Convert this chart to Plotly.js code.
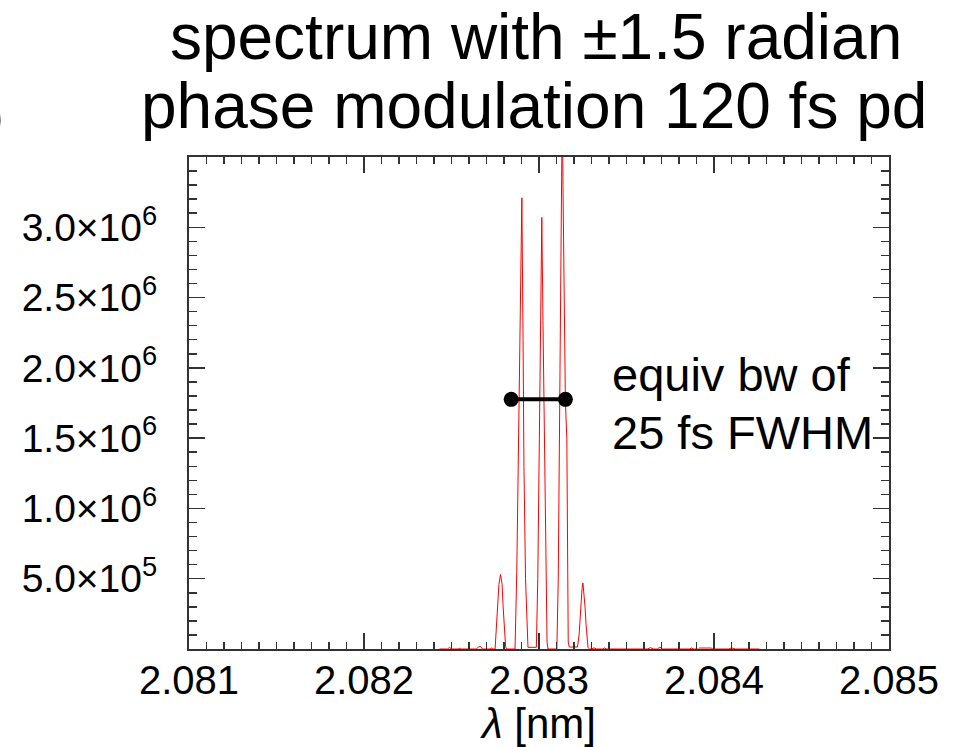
<!DOCTYPE html>
<html>
<head>
<meta charset="utf-8">
<script src="https://cdn.plot.ly/plotly-3.0.1.min.js"></script>
<style>
html,body{margin:0;padding:0;background:#fff;}
#chart{width:959px;height:747px;}
</style>
</head>
<body>
<div id="chart"></div>
<script>
// wavelength [nm] of the read spectrum points
const lambdaNm = [
  2.082431, 2.082477, 2.082489, 2.082500, 2.082540, 2.082546, 2.082551,
  2.082643, 2.082654, 2.082666, 2.082677, 2.082723, 2.082729, 2.082734,
  2.082749, 2.082757, 2.082765, 2.082771, 2.082780, 2.082789, 2.082795, 2.082802, 2.082809, 2.082814,
  2.082863, 2.082873, 2.082883, 2.082891, 2.082902, 2.082909, 2.082914, 2.082923, 2.082931, 2.082937,
  2.082985, 2.082993, 2.083002, 2.083009, 2.083016, 2.083023, 2.083031, 2.083038, 2.083046, 2.083051,
  2.083102, 2.083110, 2.083119, 2.083127, 2.083133, 2.083137, 2.083142, 2.083151, 2.083159, 2.083163, 2.083167, 2.083173,
  2.083220, 2.083229, 2.083234, 2.083240, 2.083246, 2.083251, 2.083257, 2.083263, 2.083269, 2.083274, 2.083280, 2.083289,
  2.083300, 2.083314, 2.083329, 2.083363, 2.083374, 2.083386,
  2.083620, 2.083637, 2.083654, 2.083677, 2.083691, 2.083706,
  2.083860, 2.083871, 2.083883, 2.083911, 2.083917, 2.083986, 2.083991,
  2.084083, 2.084100, 2.084123, 2.084197, 2.084203, 2.084209, 2.084260
];
// spectral intensity at those points
const intensity = [
  0, 0, 12000, 0, 0, 8000, 0,
  0, 15000, 18000, 0, 0, 9000, 0,
  0, 150000, 330000, 460000, 530000, 460000, 300000, 150000, 20000, 0,
  0, 550000, 1450000, 2300000, 3210000, 2200000, 1300000, 500000, 100000, 12000,
  12000, 500000, 1500000, 2350000, 3070000, 2300000, 1500000, 700000, 50000, 0,
  0, 500000, 1900000, 2800000, 3900000, 3300000, 2500000, 1750000, 1500000, 650000, 50000, 14000,
  14000, 100000, 220000, 330000, 430000, 470000, 400000, 300000, 170000, 70000, 10000, 0,
  0, 8000, 0, 0, 7000, 0,
  0, 10000, 0, 0, 14000, 0,
  0, 7000, 0, 0, 7000, 7000, 0,
  0, 8000, 0, 0, 7000, 0, 0
];
// equivalent-bandwidth bar (25 fs FWHM)
const bwX = [2.082841, 2.083151];
const bwY = [1776000, 1776000];

// axis ticks
const xTickVals = [2.081, 2.082, 2.083, 2.084, 2.085];
const xTickText = ["2.081", "2.082", "2.083", "2.084", "2.085"];
const yTickVals = [500000, 1000000, 1500000, 2000000, 2500000, 3000000];
const yTickText = ["5.0×10<sup>5</sup>", "1.0×10<sup>6</sup>", "1.5×10<sup>6</sup>",
                   "2.0×10<sup>6</sup>", "2.5×10<sup>6</sup>", "3.0×10<sup>6</sup>"];

const titleLine1 = "spectrum with ±1.5 radian";
const titleLine2 = "phase modulation 120 fs pd";

const FONT = "Liberation Sans, Arial, Helvetica, sans-serif";
const AX = "#333333";

const traces = [
  {
    x: lambdaNm, y: intensity, type: "scatter", mode: "lines",
    line: {color: "#ff0000", width: 1},
    hoverinfo: "skip", showlegend: false
  },
  {
    x: bwX, y: bwY, type: "scatter", mode: "lines+markers",
    line: {color: "#000000", width: 4},
    marker: {color: "#000000", size: 15},
    cliponaxis: false, showlegend: false
  }
];

const layout = {
  width: 959, height: 747,
  paper_bgcolor: "#ffffff", plot_bgcolor: "#ffffff",
  margin: {l: 189, r: 70, t: 157, b: 98, pad: 0},
  font: {family: FONT, color: "#000000"},
  title: {
    text: titleLine1,
    font: {family: FONT, size: 64, color: "#000000"},
    x: 0.559, xanchor: "center", xref: "container",
    y: 0.981, yanchor: "top", yref: "container"
  },
  xaxis: {
    range: [2.081, 2.085], autorange: false,
    tickmode: "array", tickvals: xTickVals, ticktext: xTickText,
    ticks: "inside", ticklen: 16, tickwidth: 1.5, tickcolor: AX,
    minor: {tick0: 2.081, dtick: 0.0001, ticks: "inside", ticklen: 7, tickwidth: 1.5, tickcolor: AX},
    showline: true, linecolor: AX, linewidth: 2, mirror: "ticks",
    showgrid: false, zeroline: false,
    tickfont: {family: FONT, size: 40, color: "#000000"},
    ticklabelstandoff: -5,
    title: {text: "<i>λ</i> [nm]", font: {family: FONT, size: 42, color: "#000000"}, standoff: 2}
  },
  yaxis: {
    range: [0, 3500000], autorange: false,
    tickmode: "array", tickvals: yTickVals, ticktext: yTickText,
    ticks: "inside", ticklen: 16, tickwidth: 1.5, tickcolor: AX,
    minor: {tick0: 0, dtick: 100000, ticks: "inside", ticklen: 8, tickwidth: 1.5, tickcolor: AX},
    showline: true, linecolor: AX, linewidth: 2, mirror: "ticks",
    showgrid: false, zeroline: false,
    tickfont: {family: FONT, size: 39, color: "#000000"},
    ticklabelstandoff: 22
  },
  annotations: [
    {text: titleLine2, xref: "paper", yref: "paper", x: 0.493, y: 1.1045,
     xanchor: "center", yanchor: "middle", showarrow: false,
     font: {family: FONT, size: 64, color: "#000000"}},
    {text: "equiv bw of", xref: "paper", yref: "paper", x: 0.602, y: 0.557,
     xanchor: "left", yanchor: "middle", showarrow: false,
     font: {family: FONT, size: 47, color: "#000000"}},
    {text: "25 fs FWHM", xref: "paper", yref: "paper", x: 0.602, y: 0.441,
     xanchor: "left", yanchor: "middle", showarrow: false,
     font: {family: FONT, size: 47, color: "#000000"}},
    {text: "(b)", xref: "paper", yref: "paper", x: -0.262, y: 1.085,
     xanchor: "right", yanchor: "middle", showarrow: false,
     font: {family: FONT, size: 60, color: "#000000"}}
  ]
};

Plotly.newPlot("chart", traces, layout, {displayModeBar: false, staticPlot: true});
</script>
</body>
</html>
